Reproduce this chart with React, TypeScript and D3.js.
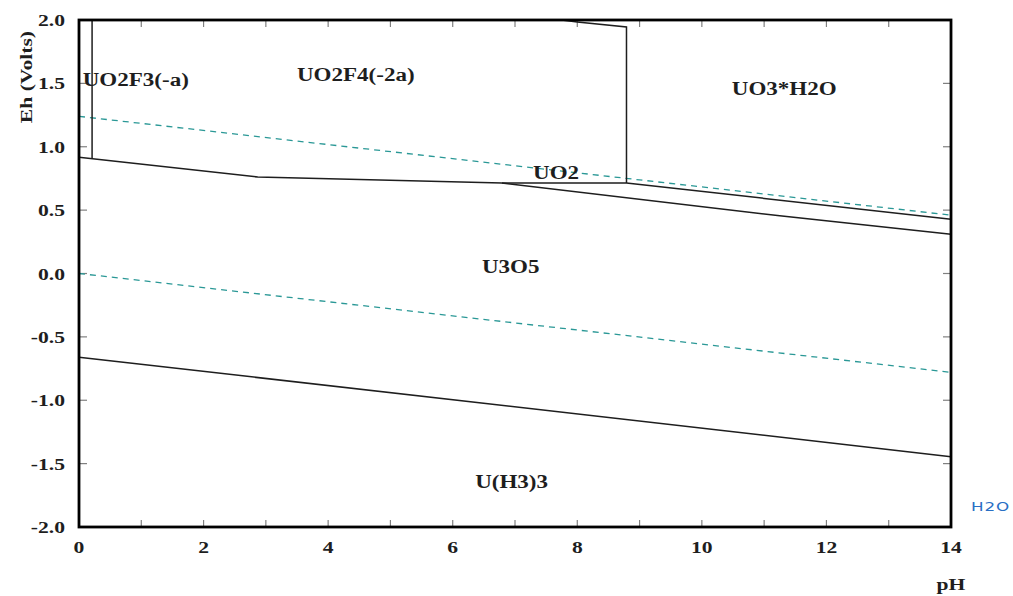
import React from 'react';
import { scaleLinear, line, range } from 'd3';

// pH / Eh boundaries
const waterUpper: [number, number][] = [[0, 1.24], [14, 0.46]];
const waterLower: [number, number][] = [[0, 0.0], [14, -0.78]];

const boundaryAcid: [number, number][] = [[0.21, 2.0], [0.21, 0.906]];
const boundaryFluoride: [number, number][] = [[7.75, 2.0], [8.0, 1.985], [8.79, 1.945], [8.79, 0.714]];
const boundaryUO2Upper: [number, number][] = [[0, 0.917], [2.87, 0.761], [6.79, 0.714], [8.79, 0.714], [14, 0.428]];
const boundaryUO2Lower: [number, number][] = [[6.79, 0.714], [11.25, 0.455], [14, 0.31]];
const boundaryHydride: [number, number][] = [[0, -0.66], [14, -1.445]];

const fieldNames = ['UO2F3(-a)', 'UO2F4(-2a)', 'UO3*H2O', 'UO2', 'U3O5', 'U(H3)3'];
const fieldPH = [0.06, 3.5, 10.48, 7.29, 6.47, 6.36];
const fieldEh = [1.479, 1.519, 1.408, 0.746, 0.004, -1.692];

const xTicks = range(0, 15, 1);
const xTickLabels = [0, 2, 4, 6, 8, 10, 12, 14];
const yTicks = range(-2, 2.01, 0.5);

const App: React.FC = () => {
    const width = 1013;
    const height = 596;
    const margin = { top: 20, right: 62, bottom: 69, left: 79 };

    const x = scaleLinear().domain([0, 14]).range([margin.left, width - margin.right]);
    const y = scaleLinear().domain([-2, 2]).range([height - margin.bottom, margin.top]);

    const path = line<[number, number]>()
        .x(d => x(d[0]))
        .y(d => y(d[1]));

    const serif = '"Liberation Serif", "Times New Roman", serif';
    const ink = '#1e1e1e';
    const stretch = 1.35;

    return (
        <svg width={width} height={height} style={{ position: 'absolute', left: 0, top: 0, background: '#fff' }}>
            {/* inner ticks */}
            <g stroke="#808080" strokeWidth={1.2}>
                {xTicks.map(t => (
                    <g key={'xt' + t}>
                        <line x1={x(t)} x2={x(t)} y1={y(-2)} y2={y(-2) - 7} />
                        <line x1={x(t)} x2={x(t)} y1={y(2)} y2={y(2) + 7} />
                    </g>
                ))}
                {yTicks.map(t => (
                    <g key={'yt' + t}>
                        <line x1={x(0)} x2={x(0) + 8} y1={y(t)} y2={y(t)} />
                        <line x1={x(14)} x2={x(14) - 8} y1={y(t)} y2={y(t)} />
                    </g>
                ))}
            </g>

            {/* water stability limits */}
            <g fill="none" stroke="#2a9896" strokeWidth={1.3} strokeDasharray="6,5">
                <path d={path(waterUpper) || ''} />
                <path d={path(waterLower) || ''} />
            </g>

            {/* phase boundaries */}
            <g fill="none" stroke={ink} strokeWidth={1.5}>
                <path d={path(boundaryAcid) || ''} />
                <path d={path(boundaryFluoride) || ''} />
                <path d={path(boundaryUO2Upper) || ''} />
                <path d={path(boundaryUO2Lower) || ''} />
                <path d={path(boundaryHydride) || ''} />
            </g>

            {/* frame */}
            <rect x={x(0)} y={y(2)} width={x(14) - x(0)} height={y(-2) - y(2)} fill="none" stroke="#000" strokeWidth={2.8} />

            {/* field labels */}
            <g fontFamily={serif} fontWeight="bold" fontSize={18} fill={ink}>
                {fieldNames.map((n, i) => (
                    <text key={n} transform={`translate(${x(fieldPH[i])},${y(fieldEh[i])}) scale(1.28,1)`}>{n}</text>
                ))}
            </g>

            {/* tick labels */}
            <g fontFamily={serif} fontWeight="bold" fontSize={16} fill={ink}>
                {xTickLabels.map(t => (
                    <text key={'xl' + t} textAnchor="middle"
                        transform={`translate(${x(t)},${y(-2) + 26}) scale(${stretch},1)`}>{t}</text>
                ))}
                {yTicks.map(t => (
                    <text key={'yl' + t} textAnchor="end"
                        transform={`translate(${x(0) - 14},${y(t) + 6}) scale(${stretch},1)`}>{t.toFixed(1)}</text>
                ))}
                <text textAnchor="middle" transform={`translate(${x(14)},${height - 6}) scale(${stretch},1)`}>pH</text>
                <text textAnchor="middle" transform={`translate(32,${y(1.55)}) scale(1,${stretch}) rotate(-90)`}>Eh (Volts)</text>
            </g>

            <text fontFamily='"DejaVu Sans", sans-serif' fontSize={12} fill="#2a6fc4"
                transform={`translate(971,511) scale(1.4,1)`} letterSpacing={0.6}>H2O</text>
        </svg>
    );
};

export default App;
